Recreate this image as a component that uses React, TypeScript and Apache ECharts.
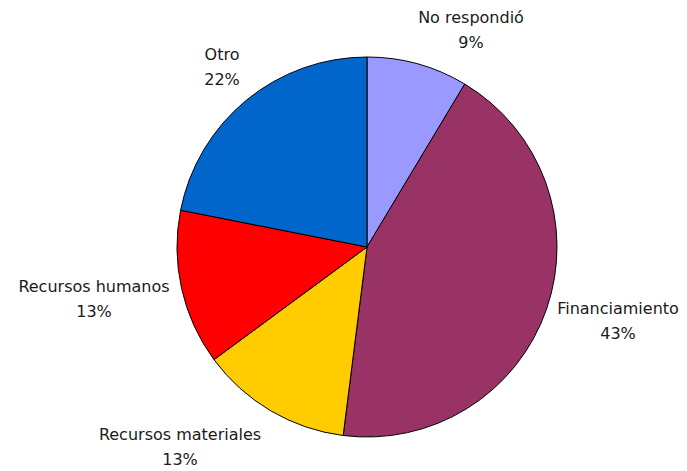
import React, { useEffect, useRef } from "react";
import * as echarts from "echarts";

const categories = ["No respondió", "Financiamiento", "Recursos materiales", "Recursos humanos", "Otro"];
const values = [8.6, 43.4, 12.9, 13.2, 21.9];
const colors = ["#9999FF", "#993366", "#FFCC00", "#FF0000", "#0066CC"];
// label block centres (layout only)
const labelCenters: [number, number][] = [
  [471, 30],
  [618, 321],
  [180, 447],
  [94, 299],
  [222, 67],
];

export default function App() {
  const ref = useRef<HTMLDivElement>(null);
  useEffect(() => {
    if (!ref.current) return;
    const chart = echarts.init(ref.current, null, { renderer: "svg" });
    chart.setOption({
      animation: false,
      backgroundColor: "#ffffff",
      series: [
        {
          type: "pie",
          center: [367, 247],
          radius: 190,
          startAngle: 90,
          clockwise: true,
          avoidLabelOverlap: false,
          data: categories.map((c, i) => ({
            name: c,
            value: values[i],
            itemStyle: { color: colors[i] },
          })),
          itemStyle: { borderColor: "#000000", borderWidth: 1 },
          label: {
            show: true,
            position: "outside",
            formatter: (p: any) => `${p.name}\n${Math.round(p.percent)}%`,
            fontFamily: "DejaVu Sans",
            fontSize: 16,
            lineHeight: 25,
            color: "#1a1a1a",
            align: "center",
          },
          labelLine: { show: false },
          labelLayout: (p: any) => {
            const c = labelCenters[p.dataIndex];
            return { x: c[0], y: c[1], align: "center", verticalAlign: "middle" };
          },
          emphasis: { disabled: true },
        },
      ],
    });
    return () => chart.dispose();
  }, []);
  return (
    <div
      ref={ref}
      style={{ position: "absolute", left: 0, top: 0, width: 687, height: 471 }}
    />
  );
}
